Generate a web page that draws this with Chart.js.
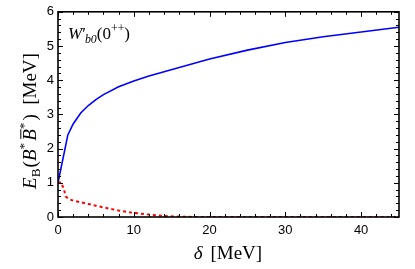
<!DOCTYPE html>
<html>
<head>
<meta charset="utf-8">
<script src="https://cdn.jsdelivr.net/npm/chart.js@4/dist/chart.umd.min.js"></script>
<style>
  html, body { margin: 0; padding: 0; background: #fff; }
  #wrap { width: 415px; height: 269px; }
</style>
</head>
<body>
<div id="wrap"><canvas id="c" width="415" height="269"></canvas></div>
<script>
// ---- data ----
const blueX = [0, 1.3, 2, 3, 4, 5, 6, 8, 10, 12, 14, 16, 20, 25, 30, 35, 40, 45];
const blueY = [1.0, 2.4, 2.72, 3.04, 3.26, 3.43, 3.58, 3.81, 3.98, 4.12, 4.25, 4.37, 4.62, 4.88, 5.1, 5.27, 5.41, 5.55];
const redX = [0, 0.4, 0.8, 1.0, 1.5, 2, 3, 4, 5, 6, 8, 10, 12, 14, 16, 18, 45];
const redY = [1.0, 1.02, 0.8, 0.6, 0.52, 0.48, 0.43, 0.38, 0.33, 0.28, 0.19, 0.12, 0.07, 0.03, 0.01, 0.0, 0.0];
const xTicks = [0, 10, 20, 30, 40];
const yTicks = [0, 1, 2, 3, 4, 5, 6];

const pts = (xs, ys) => xs.map((x, i) => ({ x: x, y: ys[i] }));

const SERIF = '"Liberation Serif", "DejaVu Serif", serif';
const SANS = '"Liberation Sans", Arial, sans-serif';

function richWidth(ctx, segs, size) {
  let total = 0;
  segs.forEach(s => {
    const sz = s.small ? size * 0.7 : size;
    ctx.font = (s.italic ? 'italic ' : '') + sz + 'px ' + SERIF;
    total += ctx.measureText(s.t).width + (s.kern || 0);
  });
  return total;
}

function drawRich(ctx, segs, x, y, size) {
  let total = richWidth(ctx, segs, size);
  let cx = x - total / 2;
  segs.forEach(s => {
    const sz = s.small ? size * 0.7 : size;
    ctx.font = (s.italic ? 'italic ' : '') + sz + 'px ' + SERIF;
    const w = ctx.measureText(s.t).width;
    let dy = 0;
    if (s.sub) dy = size * 0.22;
    if (s.sup) dy = -size * 0.4;
    ctx.fillText(s.t, cx, y + dy);
    if (s.bar) {
      ctx.save();
      ctx.lineWidth = 1;
      ctx.beginPath();
      ctx.moveTo(cx + 2, y - size * 0.8);
      ctx.lineTo(cx + w, y - size * 0.8);
      ctx.stroke();
      ctx.restore();
    }
    cx += w + (s.kern || 0);
  });
}

const framePlugin = {
  id: 'frame',
  afterDatasetsDraw(chart) {
    const ctx = chart.ctx;
    const a = chart.chartArea;
    const xs = chart.scales.x, ys = chart.scales.y;
    ctx.save();
    ctx.strokeStyle = '#000';
    ctx.lineWidth = 1;
    ctx.beginPath();
    for (let v = 0; v <= 45; v += 2) {
      const px = Math.round(xs.getPixelForValue(v)) + 0.5;
      ctx.moveTo(px, a.bottom); ctx.lineTo(px, a.bottom - 3);
      ctx.moveTo(px, a.top); ctx.lineTo(px, a.top + 3);
    }
    xTicks.forEach(v => {
      const px = Math.round(xs.getPixelForValue(v)) + 0.5;
      ctx.moveTo(px, a.bottom); ctx.lineTo(px, a.bottom - 5);
      ctx.moveTo(px, a.top); ctx.lineTo(px, a.top + 5);
    });
    for (let k = 0; k <= 30; k++) {
      const v = k * 0.2;
      const py = Math.round(ys.getPixelForValue(v)) + 0.5;
      ctx.moveTo(a.left, py); ctx.lineTo(a.left + 3, py);
      ctx.moveTo(a.right, py); ctx.lineTo(a.right - 3, py);
    }
    yTicks.forEach(v => {
      const py = Math.round(ys.getPixelForValue(v)) + 0.5;
      ctx.moveTo(a.left, py); ctx.lineTo(a.left + 5, py);
      ctx.moveTo(a.right, py); ctx.lineTo(a.right - 5, py);
    });
    ctx.stroke();
    ctx.lineWidth = 1.6;
    ctx.strokeRect(a.left, a.top, a.right - a.left, a.bottom - a.top);

    ctx.fillStyle = '#000';
    ctx.strokeStyle = '#000';
    ctx.textBaseline = 'alphabetic';
    ctx.textAlign = 'left';
    // x-axis title
    drawRich(ctx, [
      { t: 'δ', italic: true, kern: 3 },
      { t: ' [MeV]' }
    ], 228, 259, 19);
    // y-axis title (rotated)
    ctx.save();
    ctx.translate(36, 121);
    ctx.rotate(-Math.PI / 2);
    drawRich(ctx, [
      { t: 'E', italic: true },
      { t: 'B', sub: true, small: true, kern: 1 },
      { t: '(' },
      { t: 'B', italic: true },
      { t: '*', sup: true, small: true, kern: 2 },
      { t: 'B', italic: true, bar: true },
      { t: '*', sup: true, small: true, kern: 2 },
      { t: ')' },
      { t: '  [MeV]' }
    ], 0, 0, 19);
    ctx.restore();
    // state label
    const lab = [
      { t: 'W', italic: true },
      { t: '′', kern: -1 },
      { t: 'b0', italic: true, sub: true, small: true },
      { t: '(0' },
      { t: '++', sup: true, small: true },
      { t: ')' }
    ];
    const tw = richWidth(ctx, lab, 17);
    drawRich(ctx, lab, a.left + 10 + tw / 2, 39, 17);
    ctx.restore();
  }
};

new Chart(document.getElementById('c'), {
  type: 'scatter',
  data: {
    datasets: [
      {
        data: pts(blueX, blueY),
        showLine: true,
        borderColor: 'rgb(0,0,255)',
        borderWidth: 1.6,
        pointRadius: 0,
        tension: 0,
        fill: false
      },
      {
        data: pts(redX, redY),
        showLine: true,
        borderColor: 'rgb(255,0,0)',
        borderWidth: 2,
        borderDash: [3, 3],
        pointRadius: 0,
        tension: 0,
        fill: false
      }
    ]
  },
  options: {
    responsive: false,
    animation: false,
    devicePixelRatio: 1,
    layout: { padding: { top: 7, right: 16, left: 0, bottom: 0 } },
    plugins: { legend: { display: false }, tooltip: { enabled: false }, title: { display: false } },
    scales: {
      x: {
        type: 'linear', min: 0, max: 45,
        grid: { display: false, drawTicks: false },
        border: { display: false },
        afterFit(s) { s.height = 52; },
        afterBuildTicks(s) { s.ticks = xTicks.map(v => ({ value: v })); },
        ticks: { padding: 6, color: '#000', font: { family: SANS, size: 13 }, maxRotation: 0 }
      },
      y: {
        type: 'linear', min: 0, max: 6,
        grid: { display: false, drawTicks: false },
        border: { display: false },
        afterFit(s) { s.width = 58; },
        afterBuildTicks(s) { s.ticks = yTicks.map(v => ({ value: v })); },
        ticks: { padding: 4, color: '#000', font: { family: SANS, size: 13 } }
      }
    }
  },
  plugins: [framePlugin]
});
</script>
</body>
</html>
